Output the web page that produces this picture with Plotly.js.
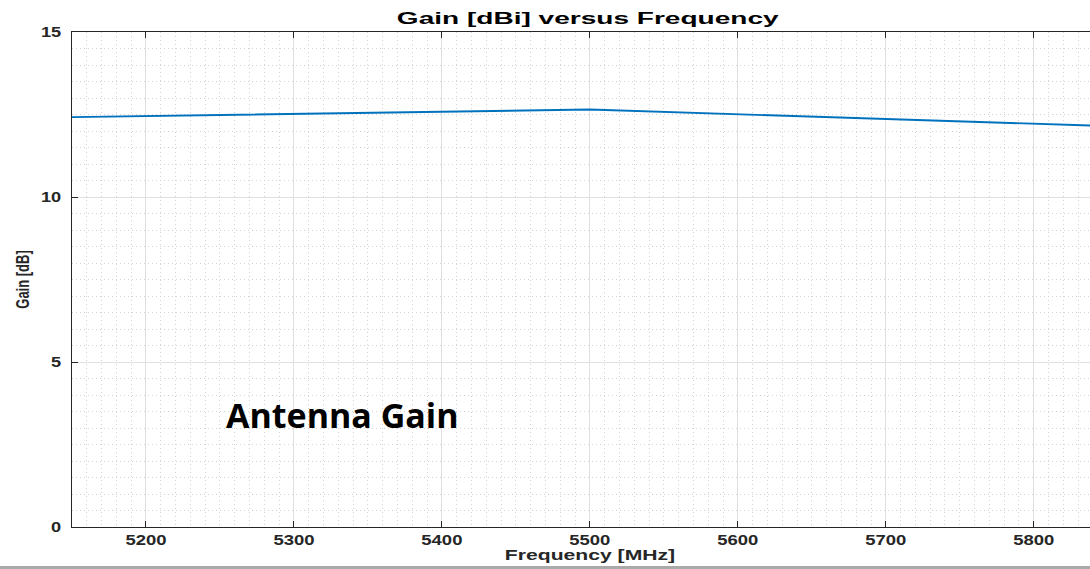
<!DOCTYPE html>
<html>
<head>
<meta charset="utf-8">
<script src="https://cdn.plot.ly/plotly-3.0.1.min.js"></script>
<style>html,body{margin:0;padding:0;overflow:hidden;background:#fff}</style>
</head>
<body>
<div id="chart" style="width:1090px;height:569px"></div>
<script>
const frequency = [5150, 5500, 5850];
const gain = [12.42, 12.65, 12.15];
const xTicks = [5200, 5300, 5400, 5500, 5600, 5700, 5800];
const yTicks = [0, 5, 10, 15];

const axisColor = '#262626';
const sans = 'Liberation Sans, Arial, Helvetica, sans-serif';
const tickFont = {family: sans, size: 14, color: axisColor, weight: 'bold'};

const data = [{
  x: frequency, y: gain, type: 'scatter', mode: 'lines',
  line: {color: '#0072BD', width: 1.9}, hoverinfo: 'skip', showlegend: false
}];

const layout = {
  width: 1090, height: 569,
  margin: {l: 72, r: 0, t: 32, b: 42, pad: 0},
  paper_bgcolor: '#fff', plot_bgcolor: '#fff',
  title: {text: '<b>Gain [dBi] versus Frequency</b>', font: {family: sans, size: 16.5, color: '#000'},
          x: 588/1090, xref: 'container', xanchor: 'center', y: 1 - 18.5/569, yref: 'container', yanchor: 'middle'},
  xaxis: {
    range: [5150, 5838], tickvals: xTicks, ticktext: xTicks.map(String),
    tickfont: tickFont, ticks: 'inside', ticklen: 6, tickcolor: axisColor, tickwidth: 1,
    showline: true, linecolor: axisColor, linewidth: 1, mirror: 'ticks',
    showgrid: true, gridcolor: '#e0e0e0', gridwidth: 1, zeroline: false,
    minor: {dtick: 10, tick0: 5150, showgrid: true, gridcolor: '#d2d2d2', griddash: '1px,3px', gridwidth: 1, ticks: ''},
    title: {text: '<b>Frequency [MHz]</b>', font: {family: sans, size: 15, color: axisColor}, standoff: 0}
  },
  yaxis: {
    range: [0, 15], tickvals: yTicks, ticktext: yTicks.map(String),
    tickfont: tickFont, ticks: 'inside', ticklen: 6, tickcolor: axisColor, tickwidth: 1,
    ticklabelstandoff: 7,
    showline: true, linecolor: axisColor, linewidth: 1, mirror: false,
    showgrid: true, gridcolor: '#e0e0e0', gridwidth: 1, zeroline: false,
    minor: {dtick: 0.5, tick0: 0, showgrid: true, gridcolor: '#d2d2d2', griddash: '1px,3px', gridwidth: 1, ticks: ''},
    title: {text: '<b>Gain [dB]</b>', font: {family: sans, size: 13, color: axisColor}, standoff: 14}
  },
  annotations: [{
    text: '<b>Antenna Gain</b>', xref: 'paper', yref: 'paper',
    x: (224-72)/1018, y: (527-415)/495, xanchor: 'left', yanchor: 'middle', showarrow: false,
    font: {family: 'Open Sans, Noto Sans, sans-serif', size: 34, color: '#000'}
  }],
  shapes: [{
    type: 'rect', xref: 'paper', yref: 'paper', x0: -0.08, x1: 1.01,
    y0: -(566-527)/495, y1: -(570-527)/495, fillcolor: '#a9a9a9', line: {width: 0}, layer: 'above'
  }]
};

// The reference image is stretched horizontally; widen text glyphs to match.
function stretch(el, sx, sy, anchor, dx = 0, dy = 0) {
  const b = el.getBBox();
  let cx = b.x + b.width / 2;
  if (anchor === 'end') cx = b.x + b.width;
  const cy = b.y + b.height / 2;
  const t = el.getAttribute('transform') || '';
  el.setAttribute('transform', t + ` translate(${dx},${dy}) translate(${cx},${cy}) scale(${sx},${sy}) translate(${-cx},${-cy})`);
}

Plotly.newPlot('chart', data, layout, {displayModeBar: false, staticPlot: true}).then(gd => {
  gd.querySelectorAll('.gtitle').forEach(el => stretch(el, 1.7, 1, 'middle'));
  gd.querySelectorAll('.xtick text').forEach(el => stretch(el, 1.32, 1, 'middle'));
  gd.querySelectorAll('.ytick text').forEach(el => stretch(el, 1.3, 1, 'end'));
  gd.querySelectorAll('.xtitle').forEach(el => stretch(el, 1.41, 1, 'middle', 9, -2));
  gd.querySelectorAll('.ytitle').forEach(el => stretch(el, 1, 1.35, 'middle'));
});
</script>
</body>
</html>
